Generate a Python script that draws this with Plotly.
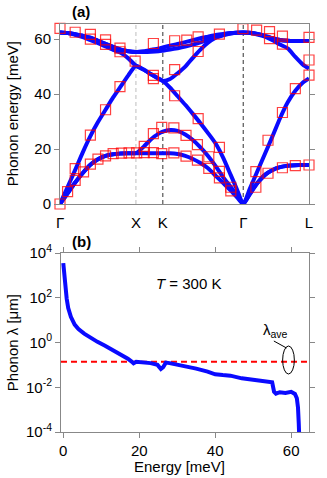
import plotly.graph_objects as go

# ---------------- (a) phonon dispersion ----------------
k_path = [0.0, 0.1, 0.2, 0.3, 0.4, 0.5, 0.6, 0.7, 0.8, 0.9, 1.0,
          1.1, 1.2, 1.3, 1.354,
          1.45, 1.55, 1.65, 1.75, 1.85, 1.95, 2.05, 2.15, 2.25, 2.33, 2.414,
          2.5, 2.6, 2.7, 2.8, 2.9, 3.0, 3.1, 3.2, 3.28]

ta1 = [0, 3.9, 7.8, 11.3, 14.3, 16.3, 17.5, 18.1, 18.4, 18.5, 18.5,
       18.5, 18.5, 18.5, 18.5,
       18.5, 18.2, 17.5, 16.4, 14.9, 13.0, 10.3, 7.6, 4.9, 2.5, 0,
       3.6, 7.6, 10.6, 12.4, 13.4, 13.9, 14.1, 14.2, 14.2]
ta2 = [0, 3.9, 7.8, 11.3, 14.3, 16.3, 17.5, 18.1, 18.4, 18.5, 18.5,
       20.8, 23.6, 25.6, 26.3,
       26.9, 26.6, 25.3, 23.3, 20.6, 17.5, 13.8, 9.7, 6.2, 3.2, 0,
       3.6, 7.6, 10.6, 12.4, 13.4, 13.9, 14.1, 14.2, 14.2]
la = [0, 6.2, 12.4, 18.8, 24.7, 29.8, 34.3, 38.8, 42.8, 46.8, 50.3,
      48.9, 47.2, 45.6, 44.8,
      42.3, 39.2, 36.1, 32.8, 29.4, 25.8, 22.0, 16.8, 10.5, 5.4, 0,
      5.5, 11.9, 18.3, 24.7, 31.3, 37.0, 41.2, 44.2, 45.7]
lo = [62.4, 62.2, 61.6, 60.7, 59.6, 58.5, 57.3, 56.1, 55.0, 53.0, 50.3,
      48.9, 47.2, 45.6, 44.8,
      45.5, 47.6, 50.0, 53.2, 56.2, 58.7, 60.5, 61.6, 62.1, 62.3, 62.4,
      62.2, 61.7, 60.9, 59.6, 58.0, 56.6, 53.5, 50.7, 49.3]
to1 = [62.4, 62.2, 61.8, 61.2, 60.5, 59.4, 58.3, 57.2, 56.2, 55.6, 55.3,
       55.6, 56.1, 56.6, 57.0,
       57.6, 58.2, 58.9, 59.6, 60.3, 60.9, 61.5, 61.9, 62.2, 62.3, 62.4,
       62.3, 61.9, 61.2, 60.3, 59.7, 59.4, 59.3, 59.3, 59.3]
to2 = [62.4, 62.2, 61.8, 61.2, 60.5, 59.4, 58.3, 57.2, 56.2, 55.6, 55.3,
       55.3, 55.4, 55.6, 55.8,
       56.2, 56.7, 57.3, 58.0, 58.8, 59.7, 60.6, 61.4, 62.0, 62.3, 62.4,
       62.3, 61.9, 61.2, 60.3, 59.7, 59.4, 59.3, 59.3, 59.3]

exp_k = [0.00, 0.20, 0.40, 0.40, 0.60, 0.60, 0.79, 0.79, 0.99, 0.79, 0.60,
         1.23, 1.23, 1.23, 1.51, 1.51, 1.51, 1.67, 1.82, 1.82, 1.82, 2.10,
         2.41, 2.59, 2.76, 2.76, 2.93, 2.93, 2.93, 3.10, 3.28, 3.28, 3.28,
         0.00, 0.10, 0.20, 0.20, 0.31, 0.40, 0.40, 0.50, 0.60, 0.70, 0.81,
         0.91, 1.01, 1.11, 1.11, 1.23, 1.23, 1.34, 1.34, 1.50, 1.50, 1.66,
         1.66, 1.81, 1.81, 1.96, 1.96, 2.10, 2.10, 2.10, 2.25, 2.25, 2.58,
         2.58, 2.74, 2.74, 2.93, 3.10, 3.28]
exp_e = [63.9, 62.5, 61.7, 60.0, 59.7, 58.1, 56.7, 55.4, 52.0, 42.7, 34.3,
         58.4, 46.8, 45.6, 59.4, 48.9, 39.4, 59.6, 60.8, 55.5, 31.1, 61.8,
         63.8, 63.3, 62.7, 60.2, 61.1, 58.2, 33.3, 42.0, 60.6, 52.4, 46.9,
         0.0, 4.5, 8.6, 12.9, 11.7, 14.5, 25.1, 16.3, 17.5, 18.3, 18.5,
         18.6, 18.6, 21.0, 18.7, 25.6, 18.7, 27.9, 18.3, 27.7, 18.6, 25.0,
         17.4, 21.6, 16.0, 17.2, 13.0, 20.6, 11.9, 9.5, 6.1, 4.8, 11.8,
         6.1, 23.2, 11.2, 13.2, 14.0, 14.2]

k_ticks = [0.0, 1.0, 1.354, 2.414, 3.28]
k_labels = ["Γ", "X", "K", "Γ", "L"]

# ---------------- (b) mean free path ----------------
energy = [0.0, 0.2, 0.4, 0.6, 0.9, 1.3, 2.0, 3.0, 4.0, 5.5, 7.0, 9.0, 11.0,
          13.0, 15.0, 17.0, 18.0, 18.5, 19.2, 21.0, 23.0, 24.8, 25.7, 26.3,
          27.0, 28.0, 30.0, 32.0, 35.0, 38.0, 40.0, 42.0, 44.0, 47.0, 50.0,
          53.0, 55.0, 55.5, 56.0, 57.0, 58.5, 60.0, 61.0, 61.5, 61.8, 62.0,
          62.2]
mfp = [3548, 1585, 501, 200, 90.0, 35.0, 14.0, 6.3, 4.0, 2.5, 1.66,
       1.07, 0.72, 0.48, 0.316, 0.19, 0.141, 0.117, 0.138, 0.135, 0.120,
       0.100, 0.066, 0.079, 0.126, 0.120, 0.105, 0.089, 0.068, 0.050, 0.038,
       0.035, 0.033, 0.025, 0.022, 0.020, 0.0166, 0.0063, 0.0052, 0.0060,
       0.0056, 0.0063, 0.0050, 0.0032, 0.00126, 0.00025, 0.00003]
lambda_ave = 0.138
e_ticks = [0, 20, 40, 60]
mfp_ticks = [1e-4, 1e-2, 1, 1e2, 1e4]
mfp_ticktext = ["10<sup>-4</sup>", "10<sup>-2</sup>", "10<sup>0</sup>",
                "10<sup>2</sup>", "10<sup>4</sup>"]

BLUE = "#0a0aff"
FONT = "Liberation Sans, Arial, sans-serif"

fig = go.Figure()
for band in [ta1, ta2, la, lo, to1, to2]:
    fig.add_trace(go.Scatter(x=k_path, y=band, mode="lines",
                             line=dict(color=BLUE, width=4, shape="spline", smoothing=0.6),
                             xaxis="x", yaxis="y", showlegend=False, cliponaxis=True))
fig.add_trace(go.Scatter(x=exp_k, y=exp_e, mode="markers",
                         marker=dict(symbol="square-open", size=10,
                                     color="rgba(255,0,0,0.75)",
                                     line=dict(width=1.2, color="rgba(255,0,0,0.75)")),
                         xaxis="x", yaxis="y", showlegend=False, cliponaxis=False))

fig.add_trace(go.Scatter(x=[-0.6, 64.7], y=[lambda_ave, lambda_ave], mode="lines",
                         line=dict(color="#ff0000", width=2, dash="6px,4px"),
                         xaxis="x2", yaxis="y2", showlegend=False))
fig.add_trace(go.Scatter(x=energy, y=mfp, mode="lines",
                         line=dict(color=BLUE, width=4),
                         xaxis="x2", yaxis="y2", showlegend=False))

shapes = []
vline_colors = ["#c8c8c8", "#555555", "#555555"]
for kv, c in zip(k_ticks[1:4], vline_colors):
    shapes.append(dict(type="line", xref="x", yref="y", x0=kv, x1=kv, y0=0, y1=65.5,
                       line=dict(color=c, width=1.2, dash="4px,3px"), layer="below"))

def px(xp):
    return (xp - 60) / 255.0

def py(yp):
    return (432 - yp) / 408.0

shapes.append(dict(type="circle", xref="paper", yref="paper",
                   x0=px(288), x1=px(300), y0=py(374), y1=py(346),
                   line=dict(color="black", width=1)))
shapes.append(dict(type="line", xref="paper", yref="paper",
                   x0=px(279), y0=py(341), x1=px(292), y1=py(348),
                   line=dict(color="black", width=1)))

ann = [
    dict(text="Phonon energy [meV]", x=px(11), y=py(114), textangle=-90),
    dict(text="Phonon λ [μm]", x=px(11), y=py(343), textangle=-90),
    dict(text="Energy [meV]", x=px(182), y=py(467)),
    dict(text="<b>(a)</b>", x=px(81), y=py(11.5)),
    dict(text="<b>(b)</b>", x=px(82), y=py(241)),
    dict(text="<i>T</i> = 300 K", x=px(192), y=py(283)),
    dict(text="λ<sub>ave</sub>", x=px(281), y=py(330)),
]
annotations = []
for a in ann:
    d = dict(xref="paper", yref="paper", showarrow=False, xanchor="center",
             yanchor="middle", font=dict(size=15, family=FONT, color="black"))
    d.update(a)
    annotations.append(d)

axis_common = dict(showgrid=False, zeroline=False, showline=True, linecolor="#888888",
                   linewidth=1, tickfont=dict(size=15, family=FONT, color="black"),
                   ticklen=5, tickcolor="#888888")

fig.update_layout(
    width=327, height=478,
    margin=dict(l=60, r=12, t=24, b=46),
    paper_bgcolor="white", plot_bgcolor="white",
    font=dict(family=FONT, size=15, color="black"),
    xaxis=dict(domain=[0, 1], range=[0, 3.28], tickvals=k_ticks, ticktext=k_labels,
               ticks="", mirror=True, anchor="y", ticklabelstandoff=5, **axis_common),
    yaxis=dict(domain=[0.5588, 1], range=[0, 65.5], tickvals=[0, 20, 40, 60],
               ticks="outside", mirror="ticks", anchor="x", **axis_common),
    xaxis2=dict(domain=[0.004, 1], range=[-0.6, 64.7], tickvals=e_ticks,
                ticks="outside", mirror="ticks", anchor="y2", **axis_common),
    yaxis2=dict(domain=[0, 0.4387], type="log", range=[-4, 4], tickvals=mfp_ticks,
                ticktext=mfp_ticktext, ticks="outside", mirror="ticks", anchor="x2",
                **axis_common),
    shapes=shapes,
    annotations=annotations,
)

fig.write_html("out.html", config={"displayModeBar": False},
               post_script="document.body.style.margin='0px';document.body.style.overflow='hidden';")
